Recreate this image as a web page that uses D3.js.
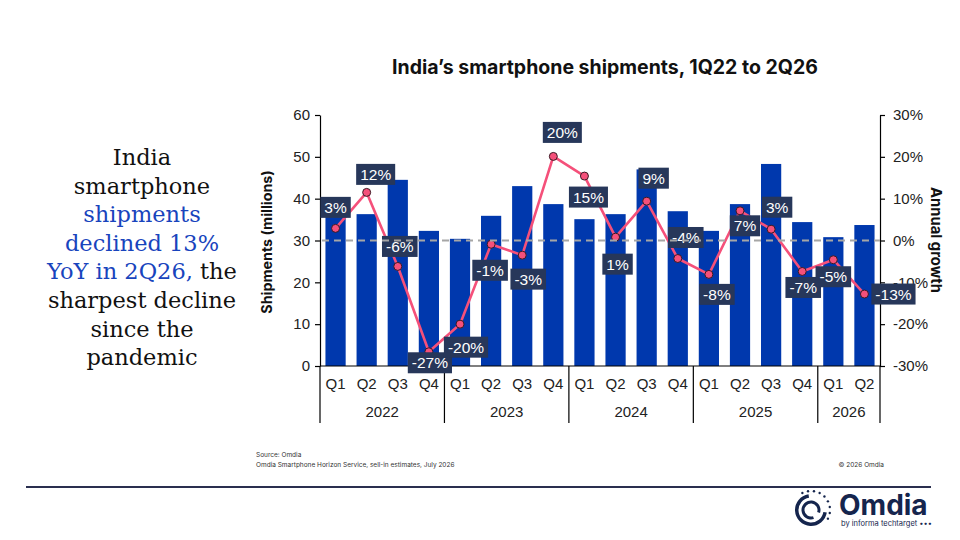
<!DOCTYPE html>
<html>
<head>
<meta charset="utf-8">
<script src="https://cdn.jsdelivr.net/npm/d3@7"></script>
<style>
  body { margin: 0; background: #fff; }
  svg { display: block; }
</style>
</head>
<body>
<div id="chart"></div>
<script>
// India smartphone shipments chart

const quarters = ["Q1","Q2","Q3","Q4","Q1","Q2","Q3","Q4","Q1","Q2","Q3","Q4","Q1","Q2","Q3","Q4","Q1","Q2"];
const years = ["2022","2022","2022","2022","2023","2023","2023","2023","2024","2024","2024","2024",
               "2025","2025","2025","2025","2026","2026"];
const shipments = [35.6, 36.3, 44.5, 32.3, 30.4, 35.9, 43.0, 38.7, 35.1, 36.3, 47.0, 37.0,
                   32.3, 38.7, 48.3, 34.4, 30.8, 33.7];
const growth = [2.9, 11.5, -6.2, -26.6, -20.0, -0.9, -3.5, 20.1, 15.4, 0.8, 9.4, -4.3,
                -8.1, 7.1, 2.7, -7.4, -4.6, -12.8];
const leftTicks = [0, 10, 20, 30, 40, 50, 60];
const rightTicks = [-30, -20, -10, 0, 10, 20, 30];

// where each growth label box sits relative to its point
const labelOffset = [[0,-21],[9,-18],[2,-20],[1,11],[6,23],[-1,26],[6,24],[9,-24],[4,21],
                     [2,27],[7,-23],[8,-21],[8,20],[5,15],[6,-22],[1,16],[0,17],[29,0]];

const width = 960, height = 540;
const plot = { left: 320, right: 880, top: 115, bottom: 366 };

const svg = d3.select("#chart").append("svg")
    .attr("width", width)
    .attr("height", height);

const x = d3.scaleBand()
    .domain(d3.range(quarters.length))
    .range([plot.left, plot.right])
    .paddingInner(0.35)
    .paddingOuter(0.175);

const y = d3.scaleLinear().domain([0, 60]).range([plot.bottom, plot.top]);
const y2 = d3.scaleLinear().domain([-30, 30]).range([plot.bottom, plot.top]);

const axisFont = "'Liberation Sans', Arial, sans-serif";

// Title
svg.append("text")
    .attr("x", 605).attr("y", 74)
    .attr("text-anchor", "middle")
    .style("font-family", "Inter, sans-serif")
    .style("font-weight", 700)
    .style("font-size", "19.5px")
    .style("fill", "#111")
    .text("India\u2019s smartphone shipments, 1Q22 to 2Q26");

// Left headline
const headline = [
    [["India", "#111"]],
    [["smartphone", "#111"]],
    [["shipments", "#1844bd"]],
    [["declined 13%", "#1844bd"]],
    [["YoY in 2Q26,", "#1844bd"], [" the", "#111"]],
    [["sharpest decline", "#111"]],
    [["since the", "#111"]],
    [["pandemic", "#111"]]
];
const head = svg.append("text")
    .attr("text-anchor", "middle")
    .style("font-family", "'DejaVu Serif', serif")
    .style("font-size", "22.5px");
headline.forEach((line, i) => {
    line.forEach((part, j) => {
        const ts = head.append("tspan").text(part[0]).style("fill", part[1]);
        if (j === 0) ts.attr("x", 142).attr("y", 165 + i * 28.6);
    });
});

// Bars
svg.append("g")
    .selectAll("rect")
    .data(shipments)
    .join("rect")
    .attr("x", (d, i) => x(i))
    .attr("y", d => y(d))
    .attr("width", x.bandwidth())
    .attr("height", d => y(0) - y(d))
    .attr("fill", "#0038ad");

// Left axis
const gl = svg.append("g")
    .attr("transform", `translate(${plot.left},0)`)
    .call(d3.axisLeft(y).tickValues(leftTicks).tickSize(5).tickSizeOuter(0).tickPadding(5));
gl.selectAll("text").style("font-family", axisFont).style("font-size", "15px").style("fill", "#222");

// Right axis
const gr = svg.append("g")
    .attr("transform", `translate(${plot.right},0)`)
    .call(d3.axisRight(y2).tickValues(rightTicks).tickSize(5).tickSizeOuter(0).tickPadding(8)
        .tickFormat(d => d + "%"));
gr.selectAll("text").style("font-family", axisFont).style("font-size", "15px").style("fill", "#222");

svg.selectAll(".domain, .tick line").attr("stroke", "#000").attr("stroke-width", 1.2);

// Baseline and category axis
svg.append("line")
    .attr("x1", plot.left).attr("x2", plot.right)
    .attr("y1", plot.bottom).attr("y2", plot.bottom)
    .attr("stroke", "#000").attr("stroke-width", 1.2);

svg.append("g")
    .selectAll("text")
    .data(quarters)
    .join("text")
    .attr("x", (d, i) => x(i) + x.bandwidth() / 2)
    .attr("y", 389)
    .attr("text-anchor", "middle")
    .style("font-family", axisFont)
    .style("font-size", "15px")
    .style("fill", "#222")
    .text(d => d);

const yearGroups = d3.groups(years.map((yr, i) => ({ yr, i })), d => d.yr)
    .map(([yr, items]) => ({ yr, start: items[0].i, end: items[items.length - 1].i + 1 }));
const step = x.step();

svg.append("g")
    .selectAll("line")
    .data([0].concat(yearGroups.map(g => g.end)))
    .join("line")
    .attr("x1", d => plot.left + d * step)
    .attr("x2", d => plot.left + d * step)
    .attr("y1", plot.bottom).attr("y2", 423)
    .attr("stroke", "#000").attr("stroke-width", 1.2);

svg.append("g")
    .selectAll("text")
    .data(yearGroups)
    .join("text")
    .attr("x", d => plot.left + (d.start + d.end) / 2 * step)
    .attr("y", 417)
    .attr("text-anchor", "middle")
    .style("font-family", axisFont)
    .style("font-size", "15px")
    .style("fill", "#222")
    .text(d => d.yr);

// Axis titles
svg.append("text")
    .attr("transform", "translate(272,242) rotate(-90)")
    .attr("text-anchor", "middle")
    .style("font-family", "Inter, sans-serif")
    .style("font-weight", 700)
    .style("font-size", "14.3px")
    .style("fill", "#111")
    .text("Shipments (millions)");

svg.append("text")
    .attr("transform", "translate(931,240) rotate(90)")
    .attr("text-anchor", "middle")
    .style("font-family", "Inter, sans-serif")
    .style("font-weight", 700)
    .style("font-size", "14.8px")
    .style("fill", "#111")
    .text("Annual growth");

// Growth line
const cx = i => x(i) + x.bandwidth() / 2;
svg.append("path")
    .datum(growth)
    .attr("d", d3.line().x((d, i) => cx(i)).y(d => y2(d)))
    .attr("fill", "none")
    .attr("stroke", "#f5507a")
    .attr("stroke-width", 2.6)
    .attr("stroke-linejoin", "round");

svg.append("g")
    .selectAll("circle")
    .data(growth)
    .join("circle")
    .attr("cx", (d, i) => cx(i))
    .attr("cy", d => y2(d))
    .attr("r", 4)
    .attr("fill", "#f5507a")
    .attr("stroke", "#3a1a24")
    .attr("stroke-width", 1);

// Growth labels
const lab = svg.append("g")
    .selectAll("g")
    .data(growth)
    .join("g")
    .attr("transform", (d, i) => `translate(${cx(i) + labelOffset[i][0]},${y2(d) + labelOffset[i][1]})`);

lab.append("rect").attr("fill", "#27375a");
lab.append("text")
    .attr("text-anchor", "middle")
    .attr("dy", "0.36em")
    .style("font-family", axisFont)
    .style("font-size", "15.5px")
    .style("fill", "#fff")
    .text(d => Math.round(d) + "%");
lab.each(function () {
    const w = d3.select(this).select("text").node().getComputedTextLength() + 8;
    d3.select(this).select("rect")
        .attr("x", -w / 2).attr("y", -10.5)
        .attr("width", w).attr("height", 21);
});

// Zero growth reference line
svg.append("line")
    .attr("x1", plot.left + 2).attr("x2", plot.right)
    .attr("y1", y2(0)).attr("y2", y2(0))
    .attr("stroke", "#a6a6a6")
    .attr("stroke-width", 2)
    .attr("stroke-dasharray", "7,5");

// Footer
const foot = svg.append("g")
    .style("font-family", "Inter, sans-serif")
    .style("font-size", "6.5px")
    .style("fill", "#333");
foot.append("text").attr("x", 256).attr("y", 457).text("Source: Omdia");
foot.append("text").attr("x", 256).attr("y", 467)
    .text("Omdia Smartphone Horizon Service, sell-in estimates, July 2026");
foot.append("text").attr("x", 884).attr("y", 467).attr("text-anchor", "end").text("\u00a9 2026 Omdia");

svg.append("line")
    .attr("x1", 26).attr("x2", 931)
    .attr("y1", 487).attr("y2", 487)
    .attr("stroke", "#2a2f4f")
    .attr("stroke-width", 1.8);

// Omdia logo
const logo = svg.append("g").attr("transform", "translate(811,510)");
const navy = "#15254d";
const arc = d3.arc();
logo.append("path")
    .attr("d", arc({ innerRadius: 12.5, outerRadius: 16, startAngle: Math.PI * 0.55, endAngle: Math.PI * 1.95 }))
    .attr("fill", navy);
logo.append("path")
    .attr("d", arc({ innerRadius: 6.5, outerRadius: 9.5, startAngle: Math.PI * 0.9, endAngle: Math.PI * 2.6 }))
    .attr("fill", navy);
logo.append("g")
    .selectAll("circle")
    .data(d3.range(9))
    .join("circle")
    .attr("cx", d => 19 * Math.sin(-Math.PI * 0.15 + d * Math.PI * 0.1))
    .attr("cy", d => -19 * Math.cos(-Math.PI * 0.15 + d * Math.PI * 0.1))
    .attr("r", 1.2)
    .attr("fill", navy);
logo.append("text")
    .attr("x", 28).attr("y", 5)
    .style("font-family", "Inter, sans-serif")
    .style("font-weight", 700)
    .style("font-size", "28px")
    .style("fill", navy)
    .text("Omdia");
logo.append("text")
    .attr("x", 30).attr("y", 15.5)
    .style("font-family", "Inter, sans-serif")
    .style("font-size", "7.5px")
    .style("fill", navy)
    .text("by informa techtarget \u2022\u2022\u2022");
</script>
</body>
</html>
